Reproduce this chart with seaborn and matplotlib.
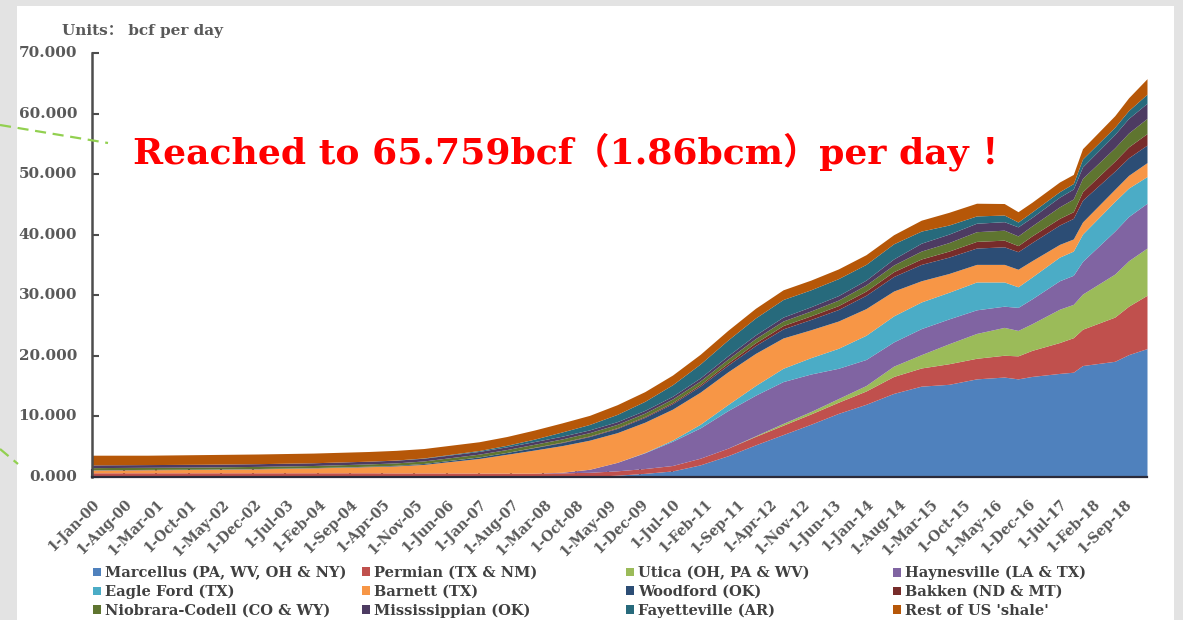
import matplotlib
matplotlib.use("Agg")
import matplotlib.pyplot as plt
import matplotlib.transforms as mtransforms
from matplotlib.patches import Patch, Rectangle
from matplotlib.lines import Line2D
import numpy as np
import pandas as pd
import seaborn as sns

# ---- data (bcf per day, dry shale gas by play) ----
sample_dates = ["2000-01", "2001-01", "2002-01", "2003-01", "2004-01", "2005-01",
                "2005-07", "2006-01", "2006-07", "2007-01", "2007-07", "2008-01",
                "2008-07", "2009-01", "2009-07", "2010-01", "2010-07", "2011-01",
                "2011-07", "2012-01", "2012-07", "2013-01", "2013-07", "2014-01",
                "2014-07", "2015-01", "2015-07", "2016-01", "2016-07", "2016-10",
                "2017-01", "2017-07", "2017-10", "2017-12", "2018-07", "2018-10",
                "2019-02"]

marcellus = [0, 0, 0, 0, 0, 0, 0, 0, 0, 0, 0, 0, 0.02, 0.1, 0.3, 0.6, 1.0, 2.0,
             3.5, 5.3, 7.0, 8.7, 10.5, 12.0, 13.8, 15.0, 15.3, 16.2, 16.5, 16.2,
             16.6, 17.1, 17.3, 18.4, 19.1, 20.2, 21.2]
permian = [0.7, 0.7, 0.7, 0.7, 0.7, 0.7, 0.68, 0.68, 0.67, 0.66, 0.65, 0.65, 0.66,
           0.68, 0.72, 0.8, 0.9, 1.1, 1.25, 1.4, 1.55, 1.7, 1.85, 2.2, 2.8, 3.0,
           3.4, 3.4, 3.6, 3.8, 4.3, 5.1, 5.7, 6.0, 7.3, 8.0, 8.8]
utica = [0, 0, 0, 0, 0, 0, 0, 0, 0, 0, 0, 0, 0, 0, 0, 0, 0, 0, 0, 0.1, 0.3, 0.4,
         0.6, 0.9, 1.7, 2.2, 3.3, 4.1, 4.6, 4.2, 4.4, 5.5, 5.5, 5.8, 7.1, 7.5, 7.8]
haynesville = [0, 0, 0, 0, 0, 0, 0, 0, 0, 0, 0, 0, 0.1, 0.5, 1.4, 2.6, 4.0, 5.0,
               6.2, 6.7, 6.9, 6.2, 5.0, 4.3, 4.0, 4.3, 4.1, 3.9, 3.5, 3.8, 4.1,
               4.7, 4.8, 5.4, 7.1, 7.3, 7.4]
eagle_ford = [0, 0, 0, 0, 0, 0, 0, 0, 0, 0, 0, 0, 0, 0, 0, 0.05, 0.2, 0.6, 1.0,
              1.6, 2.2, 2.7, 3.3, 4.0, 4.3, 4.4, 4.4, 4.6, 4.0, 3.4, 3.6, 3.9,
              4.0, 4.5, 4.9, 4.7, 4.4]
barnett = [0.45, 0.5, 0.55, 0.65, 0.8, 1.0, 1.15, 1.4, 1.9, 2.4, 3.1, 3.8, 4.4,
           4.8, 4.9, 5.0, 5.1, 5.3, 5.4, 5.3, 5.0, 4.6, 4.5, 4.4, 4.1, 3.5, 3.1,
           2.9, 2.9, 2.9, 2.7, 2.1, 2.0, 2.0, 2.0, 2.1, 2.3]
woodford = [0.05, 0.05, 0.05, 0.05, 0.05, 0.08, 0.1, 0.15, 0.2, 0.25, 0.3, 0.4,
            0.5, 0.6, 0.7, 0.8, 0.9, 1.0, 1.1, 1.3, 1.5, 1.7, 1.9, 2.2, 2.4, 2.7,
            2.7, 2.7, 2.9, 2.9, 3.0, 3.2, 3.4, 3.6, 3.0, 2.9, 2.9]
bakken = [0, 0, 0, 0, 0, 0, 0, 0, 0, 0, 0, 0.05, 0.08, 0.1, 0.12, 0.15, 0.2, 0.25,
          0.35, 0.45, 0.55, 0.6, 0.65, 0.7, 0.8, 0.9, 1.0, 1.1, 1.1, 1.0, 1.1,
          1.1, 1.1, 1.4, 1.65, 1.8, 1.9]
niobrara = [0.35, 0.35, 0.35, 0.35, 0.35, 0.38, 0.4, 0.42, 0.44, 0.46, 0.48, 0.5,
            0.52, 0.55, 0.55, 0.55, 0.58, 0.6, 0.65, 0.7, 0.75, 0.8, 0.9, 1.0,
            1.1, 1.3, 1.4, 1.6, 1.65, 1.6, 1.65, 1.9, 2.1, 2.2, 2.2, 2.3, 2.5]
mississippian = [0.45, 0.45, 0.45, 0.45, 0.45, 0.45, 0.45, 0.45, 0.45, 0.45, 0.45,
                 0.45, 0.45, 0.45, 0.45, 0.45, 0.45, 0.5, 0.55, 0.6, 0.65, 0.7,
                 0.75, 0.8, 1.0, 1.3, 1.4, 1.4, 1.4, 1.5, 1.4, 1.6, 1.65, 1.9, 2.2,
                 2.4, 2.5]
fayetteville = [0, 0, 0, 0, 0, 0, 0.02, 0.05, 0.1, 0.15, 0.25, 0.4, 0.7, 0.9, 1.2,
                1.5, 1.9, 2.3, 2.6, 2.8, 2.9, 2.8, 2.8, 2.6, 2.5, 2.0, 1.5, 1.2,
                1.1, 0.8, 0.9, 0.9, 0.9, 1.3, 1.2, 1.3, 1.5]
rest_of_us = [1.6, 1.55, 1.6, 1.6, 1.6, 1.6, 1.6, 1.55, 1.5, 1.45, 1.45, 1.5, 1.5,
              1.5, 1.6, 1.6, 1.6, 1.6, 1.6, 1.6, 1.6, 1.6, 1.6, 1.6, 1.5, 1.8,
              2.1, 2.1, 1.9, 1.7, 1.6, 1.6, 1.5, 1.7, 1.9, 2.1, 2.559]

series_names = ["Marcellus (PA, WV, OH & NY)", "Permian (TX & NM)",
                "Utica (OH, PA & WV)", "Haynesville (LA & TX)", "Eagle Ford (TX)",
                "Barnett (TX)", "Woodford (OK)", "Bakken (ND & MT)",
                "Niobrara-Codell (CO & WY)", "Mississippian (OK)",
                "Fayetteville (AR)", "Rest of US 'shale'"]
series_values = [marcellus, permian, utica, haynesville, eagle_ford, barnett,
                 woodford, bakken, niobrara, mississippian, fayetteville, rest_of_us]
series_colors = ["#4F81BD", "#C0504D", "#9BBB59", "#8064A2", "#4BACC6", "#F79646",
                 "#2C4D75", "#772C2A", "#5F7530", "#4D3B62", "#276A7C", "#B65708"]

tick_labels = ["1-Jan-00", "1-Aug-00", "1-Mar-01", "1-Oct-01", "1-May-02",
               "1-Dec-02", "1-Jul-03", "1-Feb-04", "1-Sep-04", "1-Apr-05",
               "1-Nov-05", "1-Jun-06", "1-Jan-07", "1-Aug-07", "1-Mar-08",
               "1-Oct-08", "1-May-09", "1-Dec-09", "1-Jul-10", "1-Feb-11",
               "1-Sep-11", "1-Apr-12", "1-Nov-12", "1-Jun-13", "1-Jan-14",
               "1-Aug-14", "1-Mar-15", "1-Oct-15", "1-May-16", "1-Dec-16",
               "1-Jul-17", "1-Feb-18", "1-Sep-18"]
y_ticks = [0, 10, 20, 30, 40, 50, 60, 70]
peak_text = "Reached to 65.759bcf（1.86bcm）per day ！"
units_text = "Units： bcf per day"


def month_index(ts):
    return (ts.year - 2000) * 12 + (ts.month - 1)


dates = pd.to_datetime(sample_dates, format="%Y-%m")
x = np.array([month_index(d) for d in dates])
df = pd.DataFrame(dict(zip(series_names, series_values)), index=x)
tick_dates = pd.to_datetime(tick_labels, format="%d-%b-%y")
tick_pos = [month_index(d) for d in tick_dates]

# ---- style ----
sns.set_theme(style="ticks")
palette = sns.color_palette(series_colors)
plt.rcParams["font.family"] = ["DejaVu Serif", "Noto Sans CJK SC"]

W, H = 1183, 620
fig = plt.figure(figsize=(W / 100, H / 100), dpi=100)
fig.patch.set_facecolor("#e3e3e3")
fig.add_artist(Rectangle((17 / W, 0), (1174 - 17) / W, (H - 6) / H,
                         transform=fig.transFigure, facecolor="white",
                         edgecolor="none", zorder=0))

# decorative dashed connectors at the left edge
for (x0, y0, x1, y1) in [(0, 125, 108, 143), (0, 449, 18, 464)]:
    fig.add_artist(Line2D([x0 / W, x1 / W], [1 - y0 / H, 1 - y1 / H],
                          transform=fig.transFigure, color="#92D050",
                          linewidth=1.6, linestyle=(0, (5, 3)), zorder=1))

ax = fig.add_axes([92 / W, 1 - 477 / H, (1147 - 92) / W, (477 - 53) / H])
ax.set_facecolor("none")

ax.stackplot(df.index, *[df[c].values for c in series_names],
             colors=palette, linewidth=0)

ax.set_xlim(0, x[-1])
ax.set_ylim(0, 70)
sns.despine(ax=ax, top=True, right=True)
ax.spines["left"].set_color("#4d4d4d")
ax.spines["left"].set_linewidth(1.8)
ax.spines["bottom"].set_color("#2b2b3a")
ax.spines["bottom"].set_linewidth(1.6)
ax.spines["bottom"].set_zorder(5)

# y axis: inward ticks, value labels set 15 px left of the spine
ax.set_yticks(y_ticks)
ax.tick_params(axis="y", direction="in", length=5, width=1.5, color="#4d4d4d",
               labelleft=False)
ytrans = ax.get_yaxis_transform()
for v in y_ticks:
    ax.annotate(f"{v:.3f}", xy=(0, v), xycoords=ytrans, xytext=(-15, 0),
                textcoords="offset pixels", ha="right", va="center",
                fontsize=11, fontweight="bold", color="#595959",
                annotation_clip=False)

ax.set_xticks(tick_pos)
ax.set_xticklabels(tick_labels, rotation=45, ha="right", va="center",
                   rotation_mode="anchor", fontweight="bold", color="#595959",
                   fontsize=10)
ax.tick_params(axis="x", direction="in", length=6, width=1.5, color="#2b2b3a",
               pad=18)
shift = mtransforms.ScaledTranslation(4 / 72, 0, fig.dpi_scale_trans)
for lab in ax.get_xticklabels():
    lab.set_transform(lab.get_transform() + shift)
ax.grid(False)

# units label
fig.text(62 / W, 1 - 31 / H, units_text, fontsize=11, fontweight="bold",
         color="#595959", va="center", ha="left")

# headline annotation
fig.text(133 / W, 1 - 152 / H, peak_text, fontsize=26, fontweight="bold",
         color="#FF0000", va="center", ha="left")

# legend: four evenly spaced columns, three rows
col_x = [93, 362, 626, 893]
for c in range(4):
    idx = [c, c + 4, c + 8]
    handles = [Patch(facecolor=palette[i], edgecolor="none") for i in idx]
    labels = [series_names[i] for i in idx]
    leg = fig.legend(handles, labels, loc="upper left",
                     bbox_to_anchor=(col_x[c] / W, 1 - 566 / H),
                     frameon=False, ncol=1, fontsize=10.5, handlelength=0.55,
                     handleheight=0.55, handletextpad=0.3, labelspacing=0.32,
                     borderpad=0, borderaxespad=0)
    for t in leg.get_texts():
        t.set_color("#404040")
        t.set_fontweight("bold")

fig.savefig("out.png", dpi=100, facecolor=fig.get_facecolor())
